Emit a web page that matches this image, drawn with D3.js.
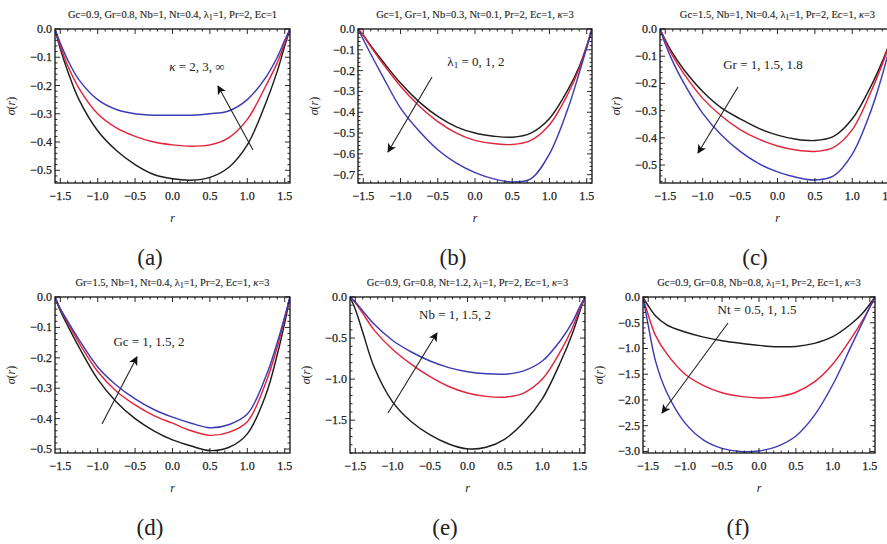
<!DOCTYPE html>
<html>
<head>
<meta charset="utf-8">
<script src="https://cdn.jsdelivr.net/npm/d3@7/dist/d3.min.js"></script>
<style>
  html, body { margin: 0; padding: 0; background: #fff; }
  svg { display: block; font-family: "Liberation Serif", "DejaVu Serif", serif; }
  text { fill: #222; }
  .tick-label { stroke: #222; stroke-width: 0.25; }
  .heading { stroke: #333; stroke-width: 0.15; }
</style>
</head>
<body>
<svg id="chart" width="887" height="544"></svg>
<script>
// Radial coordinate samples shared by every panel (r from -pi/2 to pi/2)
const rGrid = [-1.5708, -1.5, -1.4, -1.25, -1.0, -0.75, -0.5, -0.25, 0, 0.25, 0.5, 0.75, 1.0, 1.25, 1.4, 1.5, 1.5708];
const xTickValues = [-1.5, -1.0, -0.5, 0.0, 0.5, 1.0, 1.5];

// (a) kappa = 2, 3, infinity
const aBlack = [0, -0.07, -0.15, -0.25, -0.36, -0.43, -0.48, -0.515, -0.53, -0.535, -0.525, -0.49, -0.41, -0.26, -0.15, -0.06, 0];
const aRed   = [0, -0.06, -0.13, -0.21, -0.30, -0.35, -0.38, -0.40, -0.41, -0.415, -0.41, -0.385, -0.32, -0.20, -0.12, -0.05, 0];
const aBlue  = [0, -0.05, -0.11, -0.18, -0.25, -0.285, -0.30, -0.305, -0.305, -0.305, -0.30, -0.29, -0.25, -0.17, -0.10, -0.04, 0];
const aTicks = [0, -0.1, -0.2, -0.3, -0.4, -0.5];

// (b) lambda1 = 0, 1, 2
const bBlack = [0, -0.03, -0.08, -0.15, -0.26, -0.35, -0.42, -0.47, -0.50, -0.515, -0.52, -0.50, -0.43, -0.29, -0.18, -0.08, 0];
const bRed   = [0, -0.03, -0.085, -0.16, -0.275, -0.37, -0.445, -0.50, -0.535, -0.55, -0.555, -0.535, -0.46, -0.31, -0.19, -0.085, 0];
const bBlue  = [0, -0.05, -0.12, -0.22, -0.38, -0.49, -0.58, -0.645, -0.69, -0.72, -0.735, -0.72, -0.60, -0.38, -0.21, -0.09, 0];
const bTicks = [0, -0.1, -0.2, -0.3, -0.4, -0.5, -0.6, -0.7];

// (c) Gr = 1, 1.5, 1.8
const cBlack = [0, -0.04, -0.09, -0.15, -0.23, -0.29, -0.33, -0.365, -0.39, -0.405, -0.41, -0.395, -0.33, -0.21, -0.12, -0.05, 0];
const cRed   = [0, -0.045, -0.10, -0.165, -0.255, -0.32, -0.37, -0.405, -0.43, -0.445, -0.45, -0.435, -0.37, -0.23, -0.13, -0.055, 0];
const cBlue  = [0, -0.055, -0.12, -0.20, -0.31, -0.39, -0.45, -0.495, -0.525, -0.545, -0.555, -0.54, -0.46, -0.30, -0.17, -0.07, 0];
const cTicks = [0, -0.1, -0.2, -0.3, -0.4, -0.5];

// (d) Gc = 1, 1.5, 2
const dBlack = [0, -0.045, -0.095, -0.165, -0.27, -0.345, -0.40, -0.44, -0.47, -0.49, -0.505, -0.495, -0.45, -0.32, -0.19, -0.085, 0];
const dRed   = [0, -0.04, -0.085, -0.15, -0.245, -0.31, -0.355, -0.39, -0.415, -0.44, -0.455, -0.445, -0.41, -0.28, -0.165, -0.07, 0];
const dBlue  = [0, -0.038, -0.08, -0.14, -0.23, -0.29, -0.335, -0.37, -0.395, -0.415, -0.43, -0.42, -0.385, -0.26, -0.15, -0.065, 0];
const dTicks = [0, -0.1, -0.2, -0.3, -0.4, -0.5];

// (e) Nb = 1, 1.5, 2
const eBlack = [0, -0.15, -0.43, -0.85, -1.28, -1.52, -1.68, -1.79, -1.85, -1.83, -1.73, -1.53, -1.24, -0.78, -0.45, -0.18, 0];
const eRed   = [0, -0.07, -0.20, -0.40, -0.64, -0.82, -0.97, -1.09, -1.17, -1.21, -1.22, -1.17, -1.00, -0.65, -0.38, -0.15, 0];
const eBlue  = [0, -0.06, -0.17, -0.33, -0.53, -0.67, -0.78, -0.86, -0.91, -0.935, -0.94, -0.90, -0.78, -0.52, -0.31, -0.12, 0];
const eTicks = [0, -0.5, -1.0, -1.5];

// (f) Nt = 0.5, 1, 1.5
const fBlack = [0, -0.17, -0.37, -0.54, -0.68, -0.78, -0.85, -0.90, -0.94, -0.965, -0.96, -0.90, -0.77, -0.52, -0.32, -0.14, 0];
const fRed   = [0, -0.35, -0.75, -1.10, -1.50, -1.72, -1.86, -1.93, -1.96, -1.94, -1.85, -1.65, -1.30, -0.80, -0.46, -0.20, 0];
const fBlue  = [0, -0.55, -1.25, -1.85, -2.45, -2.78, -2.94, -3.00, -2.99, -2.90, -2.70, -2.30, -1.70, -0.95, -0.50, -0.20, 0];
const fTicks = [0, -0.5, -1.0, -1.5, -2.0, -2.5, -3.0];

const lineColors = { black: "#1e1e1e", red: "#e3243b", blue: "#3c3cb4" };

// Panel layout: frame box, y-range, headings and the arrow annotation (in data units)
const panels = [
  { id: "a", x0: 55, x1: 290, y0: 29, y1: 183, ymin: -0.545, yTicks: aTicks, minor: 0.02,
    series: [aBlack, aRed, aBlue],
    title: [["Gc=0.9, Gr=0.8, Nb=1, Nt=0.4, λ"], ["1", "sub"], ["=1, Pr=2, Ec=1"]],
    note: [["κ", "it"], [" = 2, 3, ∞"]], noteAt: [0.327, -0.1345],
    arrow: [[1.076, -0.428], [0.608, -0.2017]] },
  { id: "b", x0: 358, x1: 592, y0: 29, y1: 183, ymin: -0.74, yTicks: bTicks, minor: 0.02,
    series: [bBlack, bRed, bBlue],
    title: [["Gc=1, Gr=1, Nb=0.3, Nt=0.1, Pr=2, Ec=1, "], ["κ", "it"], ["=3"]],
    note: [["λ"], ["1", "sub"], [" = 0, 1, 2"]], noteAt: [0.013, -0.1586],
    arrow: [[-0.577, -0.231], [-1.168, -0.591]] },
  { id: "c", x0: 660, x1: 895, y0: 29, y1: 183, ymin: -0.566, yTicks: cTicks, minor: 0.02,
    series: [cBlack, cRed, cBlue],
    title: [["Gc=1.5, Nb=1, Nt=0.4, λ"], ["1", "sub"], ["=1, Pr=2, Ec=1, "], ["κ", "it"], ["=3"]],
    note: [["Gr = 1, 1.5, 1.8"]], noteAt: [-0.194, -0.132],
    arrow: [[-0.528, -0.213], [-1.063, -0.456]] },
  { id: "d", x0: 55, x1: 290, y0: 297, y1: 453, ymin: -0.513, yTicks: dTicks, minor: 0.02,
    series: [dBlack, dRed, dBlue],
    title: [["Gr=1.5, Nb=1, Nt=0.4, λ"], ["1", "sub"], ["=1, Pr=2, Ec=1, "], ["κ", "it"], ["=3"]],
    note: [["Gc = 1, 1.5, 2"]], noteAt: [-0.314, -0.148],
    arrow: [[-0.943, -0.4176], [-0.475, -0.197]] },
  { id: "e", x0: 350, x1: 585, y0: 297, y1: 453, ymin: -1.9, yTicks: eTicks, minor: 0.1,
    series: [eBlack, eRed, eBlue],
    title: [["Gc=0.9, Gr=0.8, Nt=1.2, λ"], ["1", "sub"], ["=1, Pr=2, Ec=1, "], ["κ", "it"], ["=3"]],
    note: [["Nb = 1, 1.5, 2"]], noteAt: [-0.167, -0.219],
    arrow: [[-1.063, -1.413], [-0.408, -0.438]] },
  { id: "f", x0: 643, x1: 875, y0: 297, y1: 453, ymin: -3.03, yTicks: fTicks, minor: 0.1,
    series: [fBlack, fRed, fBlue],
    title: [["Gc=0.9, Gr=0.8, Nb=0.8, λ"], ["1", "sub"], ["=1, Pr=2, Ec=1, "], ["κ", "it"], ["=3"]],
    note: [["Nt = 0.5, 1, 1.5"]], noteAt: [-0.027, -0.2525],
    arrow: [[-0.420, -0.505], [-1.313, -2.253]] }
];

const svg = d3.select("#chart");
const defs = svg.append("defs");
defs.append("marker")
  .attr("id", "head")
  .attr("viewBox", "0 0 10 10")
  .attr("refX", 9).attr("refY", 5)
  .attr("markerWidth", 11).attr("markerHeight", 9)
  .attr("markerUnits", "userSpaceOnUse")
  .attr("orient", "auto")
  .append("path").attr("d", "M0,0 L10,5 L0,10 L2.5,5 Z").attr("fill", "#111");

// Tick text: one decimal, typographic minus for negatives
const fmt = v => (v < 0 ? "\u2212" : "") + Math.abs(v).toFixed(1);

// Writes rich text made of plain, italic and subscript pieces
function richText(sel, parts, size) {
  parts.forEach(([str, kind]) => {
    const t = sel.append("tspan").text(str);
    if (kind === "it") t.attr("font-style", "italic");
    if (kind === "sub") {
      t.attr("font-size", size * 0.7).attr("baseline-shift", "-25%");
    }
  });
}

panels.forEach(p => {
  const g = svg.append("g").attr("class", "panel-" + p.id);
  const x = d3.scaleLinear().domain([-1.5708, 1.5708]).range([p.x0, p.x1]);
  const y = d3.scaleLinear().domain([p.ymin, 0]).range([p.y1, p.y0]);

  defs.append("clipPath").attr("id", "clip-" + p.id)
    .append("rect").attr("x", p.x0).attr("y", p.y0 - 1)
    .attr("width", p.x1 - p.x0).attr("height", p.y1 - p.y0 + 1);

  // Profiles
  const line = d3.line().x(d => x(d[0])).y(d => y(d[1])).curve(d3.curveCatmullRom.alpha(0.5));
  const colors = [lineColors.black, lineColors.red, lineColors.blue];
  p.series.forEach((vals, i) => {
    g.append("path")
      .attr("clip-path", `url(#clip-${p.id})`)
      .attr("d", line(rGrid.map((r, k) => [r, vals[k]])))
      .attr("fill", "none").attr("stroke", colors[i])
      .attr("stroke-width", 1.45);
  });

  // Frame
  g.append("rect").attr("x", p.x0).attr("y", p.y0)
    .attr("width", p.x1 - p.x0).attr("height", p.y1 - p.y0)
    .attr("fill", "none").attr("stroke", "#111").attr("stroke-width", 1.3);

  // Inward ticks on all four sides
  const ticks = g.append("g").attr("stroke", "#111").attr("stroke-width", 0.9);
  const xMinor = d3.range(-15, 16).map(k => k / 10);
  xMinor.forEach(v => {
    const major = Math.abs(v * 2 - Math.round(v * 2)) < 1e-6;
    const len = major ? 5 : 2.5;
    ticks.append("line").attr("x1", x(v)).attr("x2", x(v)).attr("y1", p.y1).attr("y2", p.y1 - len);
    ticks.append("line").attr("x1", x(v)).attr("x2", x(v)).attr("y1", p.y0).attr("y2", p.y0 + len);
  });
  const nMinor = Math.floor(-p.ymin / p.minor + 1e-6);
  d3.range(0, nMinor + 1).map(k => -k * p.minor).forEach(v => {
    const major = p.yTicks.some(t => Math.abs(t - v) < 1e-6);
    const len = major ? 5 : 2.5;
    ticks.append("line").attr("x1", p.x0).attr("x2", p.x0 + len).attr("y1", y(v)).attr("y2", y(v));
    ticks.append("line").attr("x1", p.x1).attr("x2", p.x1 - len).attr("y1", y(v)).attr("y2", y(v));
  });

  // Tick labels
  xTickValues.forEach(v => {
    g.append("text").attr("class", "tick-label").attr("x", x(v)).attr("y", p.y1 + 17)
      .attr("text-anchor", "middle").attr("font-size", 12).text(fmt(v));
  });
  p.yTicks.forEach(v => {
    g.append("text").attr("class", "tick-label").attr("x", p.x0 - 3).attr("y", y(v) + 4)
      .attr("text-anchor", "end").attr("font-size", 12).text(fmt(v));
  });

  // Axis titles
  g.append("text").attr("x", (p.x0 + p.x1) / 2).attr("y", p.y1 + 39)
    .attr("text-anchor", "middle").attr("font-size", 12).attr("font-style", "italic").text("r");
  const yl = g.append("text")
    .attr("transform", `translate(${p.x0 - 40},${(p.y0 + p.y1) / 2}) rotate(-90)`)
    .attr("text-anchor", "middle").attr("font-size", 12);
  yl.append("tspan").attr("font-style", "italic").text("σ");
  yl.append("tspan").text("(");
  yl.append("tspan").attr("font-style", "italic").text("r");
  yl.append("tspan").text(")");

  // Parameter heading
  const tt = g.append("text").attr("class", "heading")
    .attr("x", (p.x0 + p.x1) / 2).attr("y", p.y0 - 11)
    .attr("text-anchor", "middle").attr("font-size", 10.5);
  richText(tt, p.title, 10.5);

  // Sub-figure label
  g.append("text").attr("x", p.x0 + 95).attr("y", p.y1 + 82)
    .attr("text-anchor", "middle").attr("font-size", 23).text(`(${p.id})`);

  // Trend arrow and its label
  g.append("line")
    .attr("x1", x(p.arrow[0][0])).attr("y1", y(p.arrow[0][1]))
    .attr("x2", x(p.arrow[1][0])).attr("y2", y(p.arrow[1][1]))
    .attr("stroke", "#222").attr("stroke-width", 1.1)
    .attr("marker-end", "url(#head)");
  const nt = g.append("text").attr("x", x(p.noteAt[0])).attr("y", y(p.noteAt[1]) + 4)
    .attr("text-anchor", "middle").attr("font-size", 13);
  richText(nt, p.note, 13);
});
</script>
</body>
</html>
